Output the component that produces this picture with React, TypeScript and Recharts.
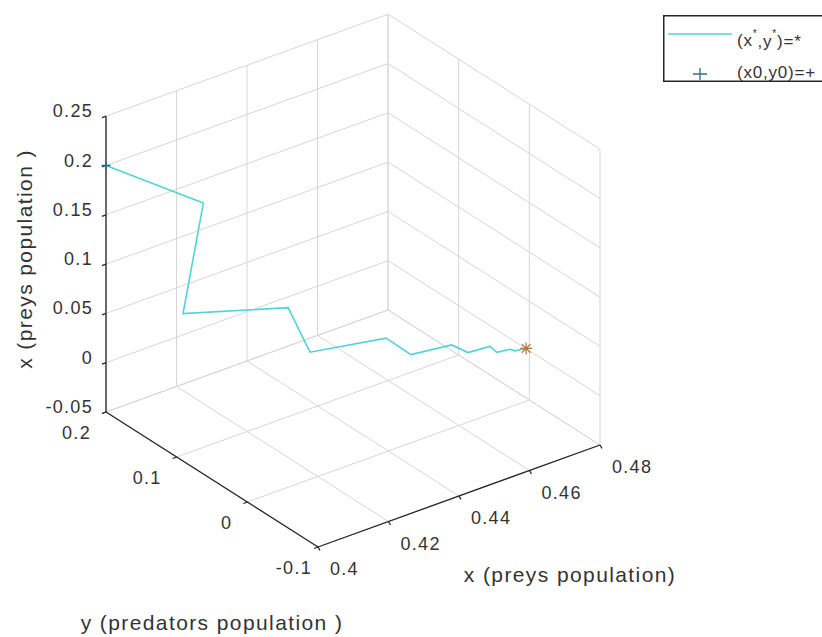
import { Legend, Scatter, ScatterChart, XAxis, YAxis } from 'recharts';

// trajectory (3D values)
const preyX = [0.4, 0.419, 0.401, 0.427, 0.427, 0.447, 0.451, 0.462, 0.465, 0.471, 0.472, 0.4755, 0.4765, 0.4795];
const predY = [0.2, 0.157, 0.096, 0.077, 0.046, 0.038, 0.023, 0.02, 0.012, 0.011, 0.006, 0.005, 0.003, 0.002];
const preyZ = [0.2, 0.157, 0.096, 0.077, 0.046, 0.038, 0.023, 0.02, 0.012, 0.011, 0.006, 0.005, 0.003, 0.002];

const xTicks = [0.4, 0.42, 0.44, 0.46, 0.48];
const yTicks = [-0.1, 0, 0.1, 0.2];
const zTicks = [-0.05, 0, 0.05, 0.1, 0.15, 0.2, 0.25];
const xTickLabels = ['0.4', '0.42', '0.44', '0.46', '0.48'];
const yTickLabels = ['-0.1', '0', '0.1', '0.2'];
const zTickLabels = ['-0.05', '0', '0.05', '0.1', '0.15', '0.2', '0.25'];

const X_MIN = 0.4;
const X_MAX = 0.48;
const Y_MIN = -0.1;
const Y_MAX = 0.2;
const Z_MIN = -0.05;
const Z_MAX = 0.25;

const WIDTH = 822;
const HEIGHT = 637;

const LINE_COLOR = '#4fd3d9';
const GRID_COLOR = '#d6d6d6';
const AXIS_COLOR = '#262626';
const TEXT_COLOR = '#333333';
const FONT = '"Liberation Sans", Arial, Helvetica, sans-serif';

// default matlab 3d view, measured on the box corners
const VIEW = { u0: 106, v0: 412, xu: 3525, xv: -1275, yu: 706.7, yv: 450, zv: -986 };

interface Pt {
    u: number;
    v: number;
    text?: string;
}

function project(x: number, y: number, z: number): Pt {
    return {
        u: VIEW.u0 + (x - X_MIN) * VIEW.xu + (Y_MAX - y) * VIEW.yu,
        v: VIEW.v0 + (x - X_MIN) * VIEW.xv + (Y_MAX - y) * VIEW.yv + (z - Z_MIN) * VIEW.zv,
    };
}

function shift(p: Pt, du: number, dv: number): Pt {
    return { u: p.u + du, v: p.v + dv };
}

const gridSegments: Pt[][] = [];
// back wall (y = max)
xTicks.forEach((x) => gridSegments.push([project(x, Y_MAX, Z_MIN), project(x, Y_MAX, Z_MAX)]));
zTicks.forEach((z) => gridSegments.push([project(X_MIN, Y_MAX, z), project(X_MAX, Y_MAX, z)]));
// side wall (x = max)
yTicks.forEach((y) => gridSegments.push([project(X_MAX, y, Z_MIN), project(X_MAX, y, Z_MAX)]));
zTicks.forEach((z) => gridSegments.push([project(X_MAX, Y_MAX, z), project(X_MAX, Y_MIN, z)]));
// floor
xTicks.forEach((x) => gridSegments.push([project(x, Y_MAX, Z_MIN), project(x, Y_MIN, Z_MIN)]));
yTicks.forEach((y) => gridSegments.push([project(X_MIN, y, Z_MIN), project(X_MAX, y, Z_MIN)]));

const axisSegments: Pt[][] = [
    [project(X_MIN, Y_MAX, Z_MIN), project(X_MIN, Y_MAX, Z_MAX)],
    [project(X_MIN, Y_MAX, Z_MIN), project(X_MIN, Y_MIN, Z_MIN)],
    [project(X_MIN, Y_MIN, Z_MIN), project(X_MAX, Y_MIN, Z_MIN)],
];
zTicks.forEach((z) => {
    const p = project(X_MIN, Y_MAX, z);
    axisSegments.push([p, shift(p, -4, 1.5)]);
});
yTicks.forEach((y) => {
    const p = project(X_MIN, y, Z_MIN);
    axisSegments.push([p, shift(p, -4, 1.5)]);
});
xTicks.forEach((x) => {
    const p = project(x, Y_MIN, Z_MIN);
    axisSegments.push([p, shift(p, 2, 3.5)]);
});

const trajectory = preyX.map((x, i) => project(x, predY[i], preyZ[i]));
const startPoint = [trajectory[0]];
const endPoint = [trajectory[trajectory.length - 1]];

const zLabelPts = zTicks.map((z, i) => ({ ...project(X_MIN, Y_MAX, z), text: zTickLabels[i] }));
const yLabelPts = yTicks.map((y, i) => ({ ...project(X_MIN, y, Z_MIN), text: yTickLabels[i] }));
const xLabelPts = xTicks.map((x, i) => ({ ...project(x, Y_MIN, Z_MIN), text: xTickLabels[i] }));

const titlePts = [
    { u: 570, v: 574, text: 'x (preys population)' },
    { u: 212, v: 622, text: 'y (predators population )' },
];
const sideTitlePts = [{ u: 24, v: 259, text: 'x (preys population )' }];

const NoDot = () => <g />;

function makeText(anchor: 'start' | 'end' | 'middle', dx: number, dy: number, size: number, spacing: number) {
    return (props: any) => {
        const { cx, cy, payload } = props;
        const cornerFix = payload.text === '-0.1' ? 9 : 0;
        return (
            <text
                x={cx + dx + cornerFix}
                y={cy + dy}
                textAnchor={anchor}
                dominantBaseline="central"
                fontSize={size}
                fontFamily={FONT}
                letterSpacing={spacing}
                fill={TEXT_COLOR}
            >
                {payload.text}
            </text>
        );
    };
}

const ZTickText = makeText('end', -13, -5, 18, 1.3);
const YTickText = makeText('end', -15, 21, 18, 1.3);
const XTickText = makeText('start', 12, 22, 18, 1.3);
const TitleText = makeText('middle', 0, 0, 21, 1.4);

function SideTitle(props: any) {
    const { cx, cy, payload } = props;
    return (
        <text
            x={cx}
            y={cy}
            transform={`rotate(-90 ${cx} ${cy})`}
            textAnchor="middle"
            dominantBaseline="central"
            fontSize={21}
            fontFamily={FONT}
            letterSpacing={1.4}
            fill={TEXT_COLOR}
        >
            {payload.text}
        </text>
    );
}

function PlusMarker(props: any) {
    const { cx, cy } = props;
    return (
        <path
            d={`M${cx - 4.5},${cy}H${cx + 4.5}M${cx},${cy - 4.5}V${cy + 4.5}`}
            stroke="#2a6f8c"
            strokeWidth={1.3}
            fill="none"
        />
    );
}

function StarMarker(props: any) {
    const { cx, cy } = props;
    const r = 6;
    const d = r * 0.72;
    return (
        <path
            d={`M${cx - r},${cy}H${cx + r}M${cx},${cy - r}V${cy + r}M${cx - d},${cy - d}L${cx + d},${cy + d}M${cx - d},${cy + d}L${cx + d},${cy - d}`}
            stroke="#b0763e"
            strokeWidth={1.2}
            fill="none"
        />
    );
}

function LegendBox() {
    return (
        <svg width={159} height={67} style={{ display: 'block' }}>
            <rect x={0.75} y={0.75} width={200} height={65.5} fill="#ffffff" stroke={AXIS_COLOR} strokeWidth={1.5} />
            <line x1={5} x2={69} y1={19} y2={19} stroke={LINE_COLOR} strokeWidth={1.5} />
            <text x={74} y={25.5} dominantBaseline="central" fontSize={17} fontFamily={FONT} letterSpacing={0.8} fill={TEXT_COLOR}>
                (x<tspan dy={-8} fontSize={10}>*</tspan>
                <tspan dy={8}>,y</tspan>
                <tspan dy={-8} fontSize={10}>*</tspan>
                <tspan dy={8}>)=*</tspan>
            </text>
            <path d="M30,59H44M37,53V65" stroke="#2a6f8c" strokeWidth={1.3} fill="none" />
            <text x={74} y={57.5} dominantBaseline="central" fontSize={17} fontFamily={FONT} letterSpacing={0.8} fill={TEXT_COLOR}>
                (x0,y0)=+
            </text>
        </svg>
    );
}

export default function App() {
    return (
        <div
            style={{
                position: 'absolute',
                left: 0,
                top: 0,
                width: WIDTH,
                height: HEIGHT,
                overflow: 'hidden',
                background: '#ffffff',
            }}
        >
            <ScatterChart width={WIDTH} height={HEIGHT} margin={{ top: 0, right: 0, bottom: 0, left: 0 }}>
                <XAxis type="number" dataKey="u" domain={[0, WIDTH]} hide />
                <YAxis type="number" dataKey="v" domain={[0, HEIGHT]} reversed hide />
                {gridSegments.map((seg, i) => (
                    <Scatter
                        key={`grid-${i}`}
                        data={seg}
                        line={{ stroke: GRID_COLOR, strokeWidth: 1 }}
                        lineJointType="linear"
                        shape={NoDot}
                        legendType="none"
                        isAnimationActive={false}
                    />
                ))}
                {axisSegments.map((seg, i) => (
                    <Scatter
                        key={`axis-${i}`}
                        data={seg}
                        line={{ stroke: AXIS_COLOR, strokeWidth: 1.3 }}
                        lineJointType="linear"
                        shape={NoDot}
                        legendType="none"
                        isAnimationActive={false}
                    />
                ))}
                <Scatter
                    name="(x*,y*)=*"
                    data={trajectory}
                    line={{ stroke: LINE_COLOR, strokeWidth: 1.6 }}
                    lineJointType="linear"
                    shape={NoDot}
                    isAnimationActive={false}
                />
                <Scatter name="(x0,y0)=+" data={startPoint} shape={PlusMarker} isAnimationActive={false} />
                <Scatter data={endPoint} shape={StarMarker} legendType="none" isAnimationActive={false} />
                <Scatter data={zLabelPts} shape={ZTickText} legendType="none" isAnimationActive={false} />
                <Scatter data={yLabelPts} shape={YTickText} legendType="none" isAnimationActive={false} />
                <Scatter data={xLabelPts} shape={XTickText} legendType="none" isAnimationActive={false} />
                <Scatter data={titlePts} shape={TitleText} legendType="none" isAnimationActive={false} />
                <Scatter data={sideTitlePts} shape={SideTitle} legendType="none" isAnimationActive={false} />
                <Legend
                    content={<LegendBox />}
                    layout="vertical"
                    align="center"
                    verticalAlign="middle"
                    wrapperStyle={{ position: 'absolute', left: 663, top: 15, width: 159, height: 67 }}
                />
            </ScatterChart>
        </div>
    );
}
